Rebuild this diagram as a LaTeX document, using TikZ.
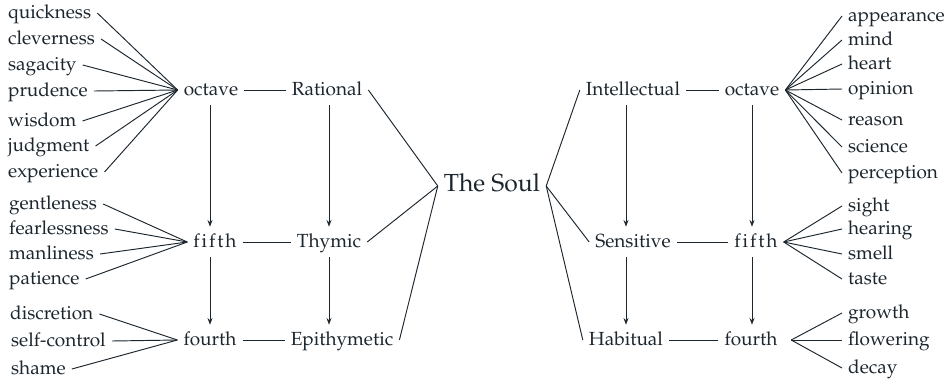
\documentclass[tikz,border=0pt]{standalone}
\usepackage[T1]{fontenc}
\usepackage{mathpazo}
\usepackage{tikz}
\usetikzlibrary{arrows.meta, positioning}
\definecolor{ink}{RGB}{28,38,46}
\tikzset{
  word/.style={inner sep=3pt, text height=1.6ex, text depth=.45ex, text=ink},
  leaf/.style={word, anchor=west},
  hub/.style={word},
  soulnode/.style={word, font=\fontsize{13}{15}\selectfont}
}
\newcommand{\spaced}{f\kern1pt i\kern1pt f\kern1pt t\kern1pt h}

\begin{document}
\begin{tikzpicture}[x=0.0185cm, y=-0.0185cm, line width=0.5pt, draw=ink, >={Stealth[length=3.5pt, width=2.6pt]}]
        \useasboundingbox (0,0) rectangle (950,383);
        % Nodes
        \node[soulnode] (soul) at (492, 186) {The Soul};

        \node[hub] (rational) at (327, 90) {Rational};
        \node[hub] (thymic) at (329, 242) {Thymic};
        \node[hub] (epithymetic) at (342, 340) {Epithymetic};
        \node[hub] (lOct) at (211, 90) {octave};
        \node[hub] (lFifth) at (215, 242) {\spaced};
        \node[hub] (lFourth) at (210, 340) {fourth};

        \node[hub] (intellectual) at (633, 90) {Intellectual};
        \node[hub] (sensitive) at (633, 242) {Sensitive};
        \node[hub] (habitual) at (626, 340) {Habitual};
        \node[hub] (rOct) at (752, 90) {octave};
        \node[hub] (rFifth) at (756, 242) {\spaced};
        \node[hub] (rFourth) at (751, 340) {fourth};

        % Left leaves
        \node[leaf] (quick) at (2, 13) {quickness};
        \node[leaf] (clever) at (2, 39) {cleverness};
        \node[leaf] (sagac) at (2, 65) {sagacity};
        \node[leaf] (prud) at (2, 91) {prudence};
        \node[leaf] (wisd) at (2, 121) {wisdom};
        \node[leaf] (judg) at (2, 146) {judgment};
        \node[leaf] (exper) at (2, 172) {experience};
        \node[leaf] (gentl) at (3, 204) {gentleness};
        \node[leaf] (fearl) at (3, 229) {fearlessness};
        \node[leaf] (manl) at (3, 254) {manliness};
        \node[leaf] (patie) at (3, 279) {patience};
        \node[leaf] (discr) at (4, 314) {discretion};
        \node[leaf] (selfc) at (5, 341) {self-control};
        \node[leaf] (shame) at (5, 369) {shame};

        % Right leaves
        \node[leaf] (appear) at (842, 16) {appearance};
        \node[leaf] (mind) at (842, 40) {mind};
        \node[leaf] (heart) at (842, 64) {heart};
        \node[leaf] (opin) at (842, 89) {opinion};
        \node[leaf] (reas) at (842, 120) {reason};
        \node[leaf] (scien) at (842, 147) {science};
        \node[leaf] (perc) at (842, 173) {perception};
        \node[leaf] (sight) at (842, 206) {sight};
        \node[leaf] (hear) at (842, 229) {hearing};
        \node[leaf] (smell) at (842, 254) {smell};
        \node[leaf] (taste) at (842, 279) {taste};
        \node[leaf] (growth) at (842, 313) {growth};
        \node[leaf] (flower) at (842, 340) {flowering};
        \node[leaf] (decay) at (842, 368) {decay};

        % Soul edges
        \draw (soul.west) -- (rational.east);
        \draw (soul.west) -- (thymic.east);
        \draw (soul.west) -- (epithymetic.east);
        \draw (soul.east) -- (intellectual.west);
        \draw (soul.east) -- (sensitive.west);
        \draw (soul.east) -- (habitual.west);

        % Rows
        \draw (lOct) -- (rational);
        \draw (lFifth) -- (thymic);
        \draw (lFourth) -- (epithymetic);
        \draw (intellectual) -- (rOct);
        \draw (sensitive) -- (rFifth);
        \draw (habitual) -- (rFourth);

        % Directed edges
        \draw[->] (lOct.south -| lFourth) -- (lFifth.north -| lFourth);
        \draw[->] (lFifth.south -| lFourth) -- (lFourth.north);
        \draw[->] (rational.south -| thymic) -- (thymic.north);
        \draw[->] (thymic.south) -- (thymic.south |- epithymetic.north);
        \draw[->] (intellectual.south -| habitual) -- (sensitive.north -| habitual);
        \draw[->] (sensitive.south -| habitual) -- (habitual.north);
        \draw[->] (rOct.south -| rOct) -- (rFifth.north -| rOct);
        \draw[->] (rFifth.south -| rOct) -- (rFourth.north -| rOct);

        % Left fans
        \draw (quick.east) -- (lOct.west);
        \draw (clever.east) -- (lOct.west);
        \draw (sagac.east) -- (lOct.west);
        \draw (prud.east) -- (lOct.west);
        \draw (wisd.east) -- (lOct.west);
        \draw (judg.east) -- (lOct.west);
        \draw (exper.east) -- (lOct.west);
        \draw (gentl.east) -- (lFifth.west);
        \draw (fearl.east) -- (lFifth.west);
        \draw (manl.east) -- (lFifth.west);
        \draw (patie.east) -- (lFifth.west);
        \draw (discr.east) -- (lFourth.west);
        \draw (selfc.east) -- (lFourth.west);
        \draw (shame.east) -- (lFourth.west);

        % Right fans
        \draw (rOct.east) -- (appear.west);
        \draw (rOct.east) -- (mind.west);
        \draw (rOct.east) -- (heart.west);
        \draw (rOct.east) -- (opin.west);
        \draw (rOct.east) -- (reas.west);
        \draw (rOct.east) -- (scien.west);
        \draw (rOct.east) -- (perc.west);
        \draw (rFifth.east) -- (sight.west);
        \draw (rFifth.east) -- (hear.west);
        \draw (rFifth.east) -- (smell.west);
        \draw (rFifth.east) -- (taste.west);
        \draw ([xshift=4pt]rFourth.east) -- (growth.west);
        \draw ([xshift=4pt]rFourth.east) -- (flower.west);
        \draw ([xshift=4pt]rFourth.east) -- (decay.west);
    \end{tikzpicture}
\end{document}
